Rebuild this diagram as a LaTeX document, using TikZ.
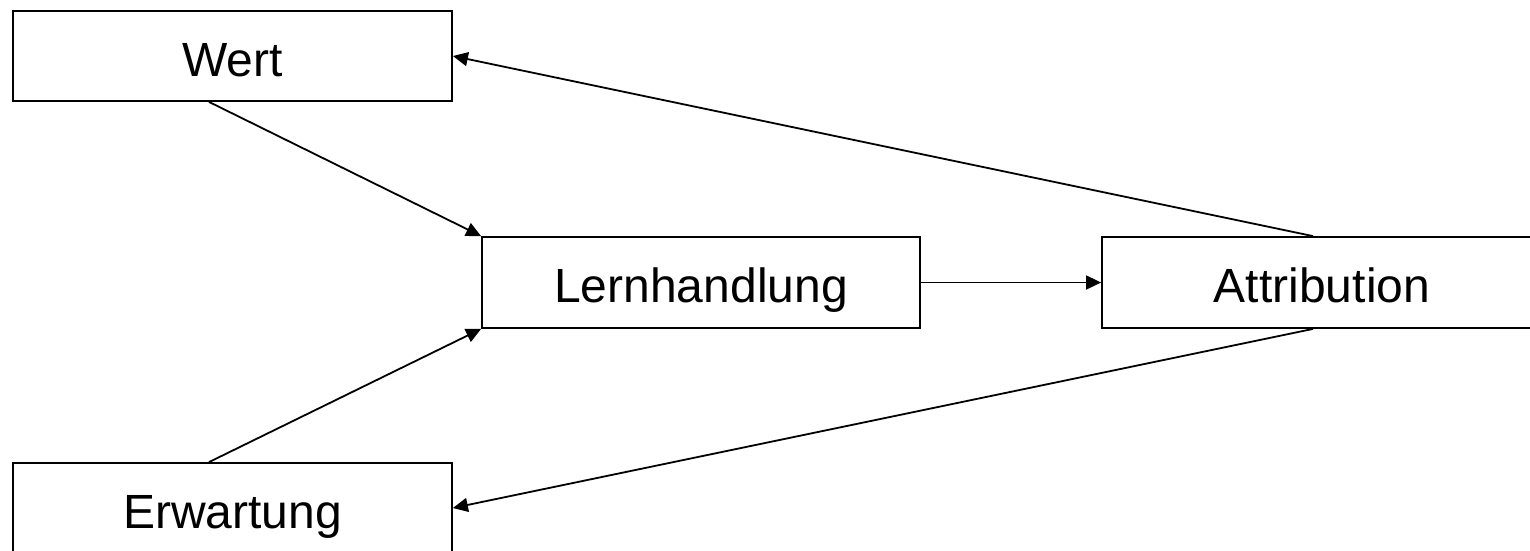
\documentclass[tikz,border=0pt]{standalone}
\usepackage{fontspec}
\setmainfont{Liberation Sans}
\usetikzlibrary{arrows.meta}
\begin{document}
\begin{tikzpicture}[x=1pt,y=-1pt,
  box/.style={draw=black,line width=1.8pt,fill=white,inner sep=0pt,
    minimum width=439pt,minimum height=90pt,text height=40pt,text depth=0pt,
    font=\fontsize{48}{58}\selectfont},
  conn/.style={line width=1.8pt,-{Triangle[length=15pt,width=14pt]}}]
\fill[white] (0,0) rectangle (1530,550);
\useasboundingbox (0,0) rectangle (1530,550);
\node[box] (wert) at (232.5,56) {Wert};
\node[box,minimum width=438pt,minimum height=91pt] (lern) at (701,282.5) {Lernhandlung};
\node[box,minimum width=440pt,minimum height=91pt] (attr) at (1322,282.5) {Attribution};
\node[box] (erw) at (232.5,508) {Erwartung};
\draw[conn] ([xshift=-23.5pt]wert.south) -- (lern.north west);
\draw[conn] ([xshift=-23.5pt]erw.north) -- (lern.south west);
\draw[conn] (lern.east) -- (attr.west);
\draw[conn] ([xshift=-9pt]attr.north) -- (wert.east);
\draw[conn] ([xshift=-9pt]attr.south) -- (erw.east);
\end{tikzpicture}
\end{document}
